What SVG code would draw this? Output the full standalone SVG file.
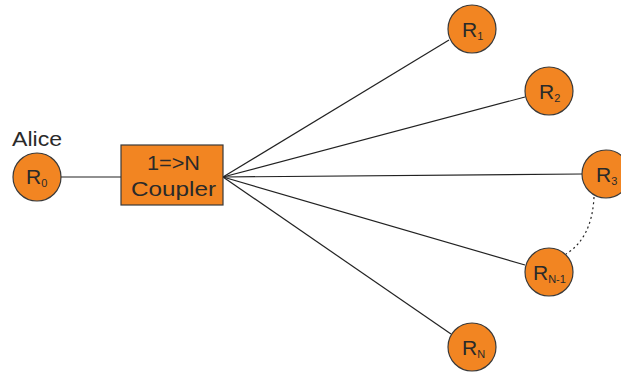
<svg xmlns="http://www.w3.org/2000/svg" width="621" height="372" viewBox="0 0 621 372">
<style>
.node{fill:#F28522;stroke:#3a3a3a;stroke-width:1.2}
.lbl{font-family:"Liberation Sans",Arial,sans-serif;font-size:21px;fill:#2a2a2a}
.sub{font-size:11px}
.ln{stroke:#222;stroke-width:1.2;fill:none}
</style>
<rect width="621" height="372" fill="#fff"/>
<g id="connectors">
<line class="ln" x1="61" y1="177" x2="121" y2="177"/>
<line class="ln" x1="223" y1="177" x2="449" y2="40"/>
<line class="ln" x1="223" y1="177" x2="525" y2="97"/>
<line class="ln" x1="223" y1="177" x2="582" y2="174"/>
<line class="ln" x1="223" y1="177" x2="525" y2="265"/>
<line class="ln" x1="223" y1="177" x2="451" y2="334"/>
<path class="ln" d="M594,197 Q592,238 566,254" stroke-dasharray="2,3"/>
</g>
<g id="alice"><text class="lbl" x="12" y="146" textLength="50" lengthAdjust="spacingAndGlyphs">Alice</text></g>
<g id="r0"><circle class="node" cx="37" cy="177" r="24"/><text class="lbl" x="26" y="184">R<tspan class="sub" dy="3">0</tspan></text></g>
<g id="coupler"><rect class="node" x="121" y="145" width="102" height="60"/>
<text class="lbl" x="147" y="170" textLength="53" lengthAdjust="spacingAndGlyphs">1=&gt;N</text>
<text class="lbl" x="131" y="196" textLength="85" lengthAdjust="spacingAndGlyphs">Coupler</text></g>
<g id="r1"><circle class="node" cx="472" cy="29" r="24"/><text class="lbl" x="462" y="37">R<tspan class="sub" dy="3">1</tspan></text></g>
<g id="r2"><circle class="node" cx="549" cy="91" r="24"/><text class="lbl" x="539" y="99">R<tspan class="sub" dy="3">2</tspan></text></g>
<g id="r3"><circle class="node" cx="606" cy="174" r="24"/><text class="lbl" x="596" y="182">R<tspan class="sub" dy="3">3</tspan></text></g>
<g id="rn1"><circle class="node" cx="549" cy="272" r="24"/><text class="lbl" x="533" y="280">R<tspan class="sub" dy="3">N-1</tspan></text></g>
<g id="rn"><circle class="node" cx="472" cy="347" r="24"/><text class="lbl" x="462" y="355">R<tspan class="sub" dy="3">N</tspan></text></g>
</svg>
